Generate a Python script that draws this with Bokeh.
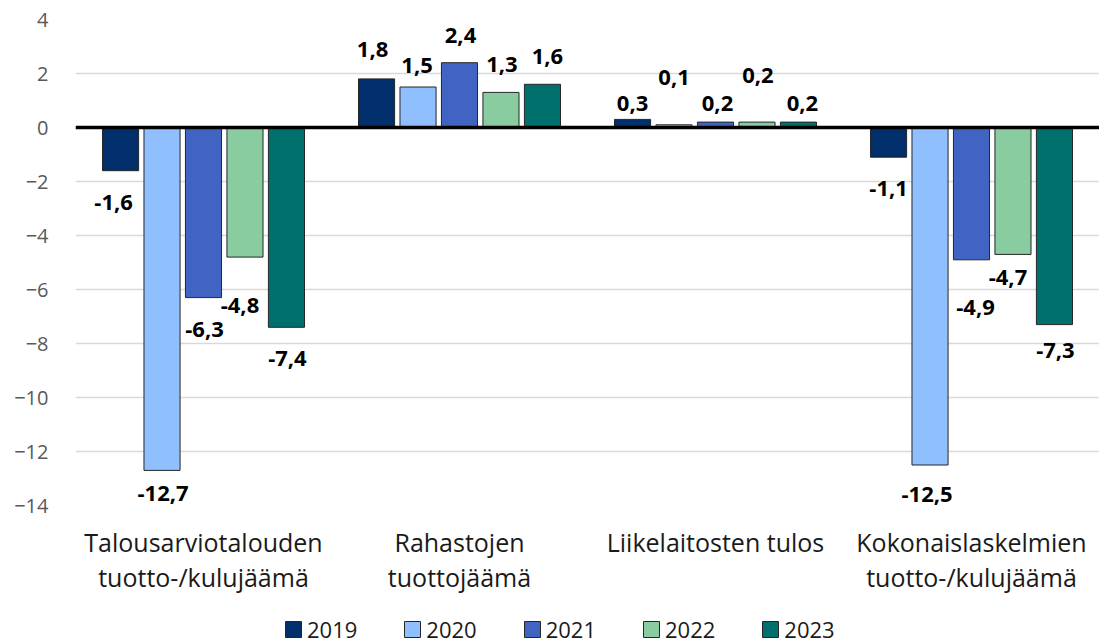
from bokeh.plotting import figure
from bokeh.layouts import column
from bokeh.models import (FactorRange, ColumnDataSource, Legend, LegendItem, FixedTicker,
                          Span, Range1d)
from bokeh.transform import dodge
from bokeh.core.properties import value
from bokeh.embed import file_html
from bokeh.resources import INLINE

categories = [
    "Talousarviotalouden\ntuotto-/kulujäämä",
    "Rahastojen\ntuottojäämä",
    "Liikelaitosten tulos",
    "Kokonaislaskelmien\ntuotto-/kulujäämä",
]
years = ["2019", "2020", "2021", "2022", "2023"]
v2019 = [-1.6, 1.8, 0.3, -1.1]
v2020 = [-12.7, 1.5, 0.1, -12.5]
v2021 = [-6.3, 2.4, 0.2, -4.9]
v2022 = [-4.8, 1.3, 0.2, -4.7]
v2023 = [-7.4, 1.6, 0.2, -7.3]
y_ticks = [-14, -12, -10, -8, -6, -4, -2, 0, 2, 4]

series = [v2019, v2020, v2021, v2022, v2023]
colors = ["#002F6C", "#8FBFFF", "#4163C2", "#88CCA0", "#00706E"]
offsets = [-0.324, -0.162, 0.0, 0.162, 0.324]
bar_w = 0.141
# label nudges in pixels (dx, dy) per year, per category
nudges = [
    [(-7, 32), (-4, -29), (0, -16), (0, 31)],
    [(1, 23), (-1, -22), (0, -47), (-3, 29)],
    [(1, 32), (1, -27), (2, -19), (4, 48)],
    [(-5, 48), (1, -28), (1, -47), (-5, 23)],
    [(1, 31), (5, -28), (4, -19), (1, 26)],
]

FONT = "Open Sans"

p = figure(
    x_range=FactorRange(*categories, range_padding=0),
    y_range=(-14, 4),
    width=1099, height=604,
    output_backend="svg", toolbar_location=None,
    min_border_left=75, min_border_right=0, min_border_top=19, min_border_bottom=99,
)
p.outline_line_color = None
p.background_fill_color = "white"

# legend strip below the chart (its bars lie outside its visible y range)
lg = figure(width=1099, height=40, output_backend="svg", toolbar_location=None,
            x_range=FactorRange(*categories, range_padding=0), y_range=Range1d(50, 51),
            x_axis_location=None, y_axis_location=None,
            min_border=0, min_border_left=75, min_border_right=0,
            min_border_top=0, min_border_bottom=0)
lg.outline_line_color = None
lg.xgrid.grid_line_color = None
lg.ygrid.grid_line_color = None

items = []
for i, (yr, vals) in enumerate(zip(years, series)):
    src = ColumnDataSource(dict(
        cat=categories,
        val=vals,
        lab=[("%.1f" % v).replace(".", ",") for v in vals],
        dx=[n[0] for n in nudges[i]],
        dy=[n[1] for n in nudges[i]],
    ))
    p.vbar(x=dodge("cat", offsets[i], range=p.x_range), top="val", bottom=0,
           width=bar_w, source=src, fill_color=colors[i],
           line_color="#262626", line_width=1)
    p.text(x=dodge("cat", offsets[i], range=p.x_range), y="val", text="lab",
           x_offset="dx", y_offset="dy", source=src,
           text_align="center", text_baseline="middle",
           text_font=value(FONT), text_font_style="bold",
           text_font_size="22px", text_color="#000000")
    lr = lg.vbar(x=dodge("cat", offsets[i], range=lg.x_range), top="val", bottom=0,
                 width=bar_w, source=src, fill_color=colors[i],
                 line_color="#262626", line_width=1)
    items.append(LegendItem(label=yr, renderers=[lr]))

p.add_layout(Span(location=0, dimension="width", line_color="#000000", line_width=3.5))

# axes
p.yaxis.ticker = FixedTicker(ticks=y_ticks)
p.yaxis.axis_line_color = None
p.yaxis.major_tick_line_color = None
p.yaxis.minor_tick_line_color = None
p.yaxis.major_tick_out = 0
p.yaxis.major_tick_in = 0
p.yaxis.major_label_standoff = 27
p.yaxis.major_label_text_font = FONT
p.yaxis.major_label_text_font_size = "20px"
p.yaxis.major_label_text_color = "#595959"

p.xaxis.axis_line_color = None
p.xaxis.major_tick_line_color = None
p.xaxis.minor_tick_line_color = None
p.xaxis.major_tick_out = 0
p.xaxis.major_label_standoff = 19
p.xaxis.major_label_text_font = FONT
p.xaxis.major_label_text_font_size = "25px"
p.xaxis.major_label_text_color = "#1a1a1a"
p.xaxis.major_label_text_line_height = 1.03

p.xgrid.grid_line_color = None
p.ygrid.ticker = FixedTicker(ticks=y_ticks)
p.ygrid.grid_line_color = "#d9d9d9"
p.ygrid.grid_line_width = 1.5

legend = Legend(items=items, orientation="horizontal", location=(208, 0),
                glyph_width=20, glyph_height=20, label_standoff=4, spacing=45,
                padding=0, margin=0, border_line_color=None,
                label_text_font=FONT, label_text_font_size="22px",
                label_text_color="#1a1a1a", background_fill_alpha=0)
lg.add_layout(legend)

layout = column(p, lg, spacing=0)
open("out.html", "w").write(file_html(layout, INLINE))
